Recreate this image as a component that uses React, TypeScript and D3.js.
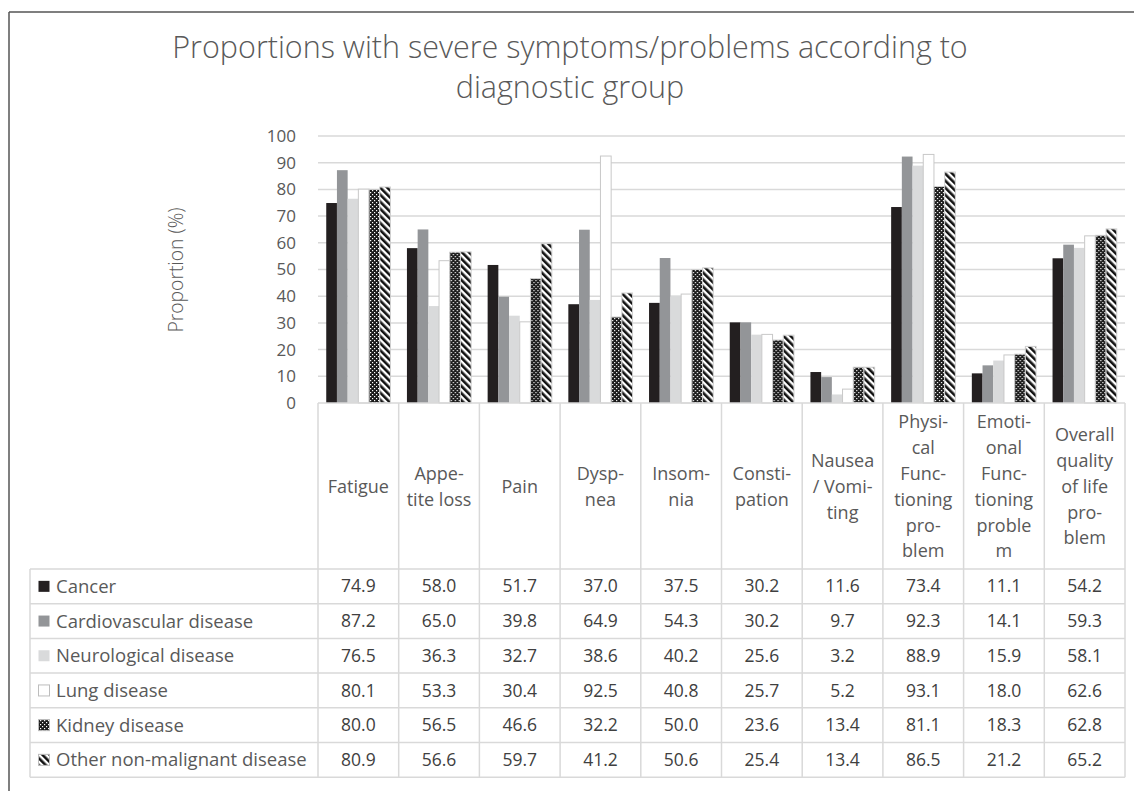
import React from "react";
import * as d3 from "d3";

const categories = ["Fatigue","Appetite loss","Pain","Dyspnea","Insomnia","Constipation","Nausea / Vomiting","Physical Functioning problem","Emotional Functioning problem","Overall quality of life problem"];
const categoryLines = [
  ["Fatigue"],
  ["Appe-","tite loss"],
  ["Pain"],
  ["Dysp-","nea"],
  ["Insom-","nia"],
  ["Consti-","pation"],
  ["Nausea","/ Vomi-","ting"],
  ["Physi-","cal","Func-","tioning","pro-","blem"],
  ["Emoti-","onal","Func-","tioning","proble","m"],
  ["Overall","quality","of life","pro-","blem"],
];
const seriesNames = ["Cancer","Cardiovascular disease","Neurological disease","Lung disease","Kidney disease","Other non-malignant disease"];
const cancer = [74.9,58.0,51.7,37.0,37.5,30.2,11.6,73.4,11.1,54.2];
const cardiovascular = [87.2,65.0,39.8,64.9,54.3,30.2,9.7,92.3,14.1,59.3];
const neurological = [76.5,36.3,32.7,38.6,40.2,25.6,3.2,88.9,15.9,58.1];
const lung = [80.1,53.3,30.4,92.5,40.8,25.7,5.2,93.1,18.0,62.6];
const kidney = [80.0,56.5,46.6,32.2,50.0,23.6,13.4,81.1,18.3,62.8];
const other = [80.9,56.6,59.7,41.2,50.6,25.4,13.4,86.5,21.2,65.2];
const seriesValues = [cancer, cardiovascular, neurological, lung, kidney, other];
const yTicks = [0,10,20,30,40,50,60,70,80,90,100];

const fills = ["#231f20","#939598","#d9dadb","#ffffff","url(#kidneyPat)","url(#otherPat)"];
const strokes = ["none","none","none","#c8c8c8","#d0d0d0","#d0d0d0"];

const FONT = "'Open Sans', sans-serif";
const TXT = "#595959";

export default function App() {
  const W = 1134, H = 791;
  const left = 318, right = 1125;
  const y0 = 403, y100 = 136;
  const x0 = d3.scaleBand<string>().domain(categories).range([left, right]).padding(0);
  const x1 = d3.scaleBand<string>().domain(seriesNames).range([0, x0.bandwidth()]).paddingInner(0).paddingOuter(0.77);
  const y = d3.scaleLinear().domain([0, 100]).range([y0, y100]);

  const headerBottom = 569;
  const rowH = 34.7;
  const tableLeft = 30;
  const lineH = 25.8;
  const headerMid = (y0 + headerBottom) / 2 + 0.5;

  return (
    <svg width={W} height={H} style={{ position: "absolute", left: 0, top: 0, background: "#fff" }} fontFamily={FONT}>
      <defs>
        <pattern id="kidneyPat" width="4" height="4" patternUnits="userSpaceOnUse">
          <rect width="4" height="4" fill="#1a1a1a" />
          <rect x="0" y="0" width="1.2" height="1.2" fill="#ffffff" />
          <rect x="2" y="2" width="1.2" height="1.2" fill="#ffffff" />
        </pattern>
        <pattern id="otherPat" width="5" height="5" patternUnits="userSpaceOnUse" patternTransform="rotate(-45)">
          <rect width="5" height="5" fill="#ffffff" />
          <rect width="2.6" height="5" fill="#111" />
        </pattern>
      </defs>
      <rect x={0} y={0} width={W} height={H} fill="#fff" />
      {/* outer border */}
      <line x1={9} y1={12} x2={W} y2={12} stroke="#555" strokeWidth={1.5} />
      <line x1={9} y1={12} x2={9} y2={H} stroke="#555" strokeWidth={1.5} />

      {/* title */}
      <text x={570} y={58} textAnchor="middle" fontSize={30.5} fontWeight={300} fill={TXT}>Proportions with severe symptoms/problems according to</text>
      <text x={570} y={98} textAnchor="middle" fontSize={30.5} fontWeight={300} fill={TXT}>diagnostic group</text>

      {/* y label */}
      <text transform={`translate(176,270) rotate(-90)`} textAnchor="middle" dy="0.35em" fontSize={19.3} fontWeight={300} fill={TXT}>Proportion (%)</text>

      {/* gridlines and ticks */}
      {yTicks.map((t) => (
        <g key={t}>
          {t > 0 && <line x1={left} x2={right} y1={y(t)} y2={y(t)} stroke="#d9d9d9" strokeWidth={1.5} />}
          <text x={296} y={y(t)} dy="0.35em" textAnchor="end" fontSize={17} fill={TXT}>{t}</text>
        </g>
      ))}

      {/* bars */}
      {categories.map((c, ci) => (
        <g key={c} transform={`translate(${x0(c)},0)`}>
          {seriesNames.map((s, si) => {
            const v = seriesValues[si][ci];
            return (
              <rect key={s} x={x1(s)} y={y(v)} width={x1.bandwidth()} height={y(0) - y(v)}
                fill={fills[si]} stroke={strokes[si]} strokeWidth={strokes[si] === "none" ? 0 : 1} />
            );
          })}
        </g>
      ))}

      {/* table lines */}
      <g stroke="#d9d9d9" strokeWidth={1.5}>
        <line x1={left} x2={right} y1={y0} y2={y0} />
        {categories.map((c) => (
          <line key={c} x1={x0(c)} x2={x0(c)} y1={y0} y2={headerBottom + rowH * 6} />
        ))}
        <line x1={right} x2={right} y1={y0} y2={headerBottom + rowH * 6} />
        <line x1={tableLeft} x2={tableLeft} y1={headerBottom} y2={headerBottom + rowH * 6} />
        {d3.range(7).map((i) => (
          <line key={i} x1={tableLeft} x2={right} y1={headerBottom + rowH * i} y2={headerBottom + rowH * i} />
        ))}
      </g>

      {/* category headers */}
      {categories.map((c, ci) => {
        const lines = categoryLines[ci];
        const cx = (x0(c) as number) + x0.bandwidth() / 2;
        const startY = headerMid - ((lines.length - 1) * lineH) / 2;
        return (
          <text key={c} textAnchor="middle" fontSize={18} fill={TXT}>
            {lines.map((l, li) => (
              <tspan key={li} x={cx} y={startY + li * lineH} dy="0.35em">{l}</tspan>
            ))}
          </text>
        );
      })}

      {/* rows */}
      {seriesNames.map((s, si) => {
        const cy = headerBottom + rowH * si + rowH / 2;
        return (
          <g key={s}>
            <rect x={38.5} y={cy - 5.5} width={11} height={11} fill={fills[si]} stroke={strokes[si] === "none" ? "none" : "#bdbdbd"} strokeWidth={1} />
            <text x={56} y={cy} dy="0.35em" fontSize={18.5} fill={TXT}>{s}</text>
            {categories.map((c, ci) => (
              <text key={c} x={(x0(c) as number) + x0.bandwidth() / 2} y={cy} dy="0.35em" textAnchor="middle" fontSize={17.5} fill="#404040">
                {seriesValues[si][ci].toFixed(1)}
              </text>
            ))}
          </g>
        );
      })}
    </svg>
  );
}
